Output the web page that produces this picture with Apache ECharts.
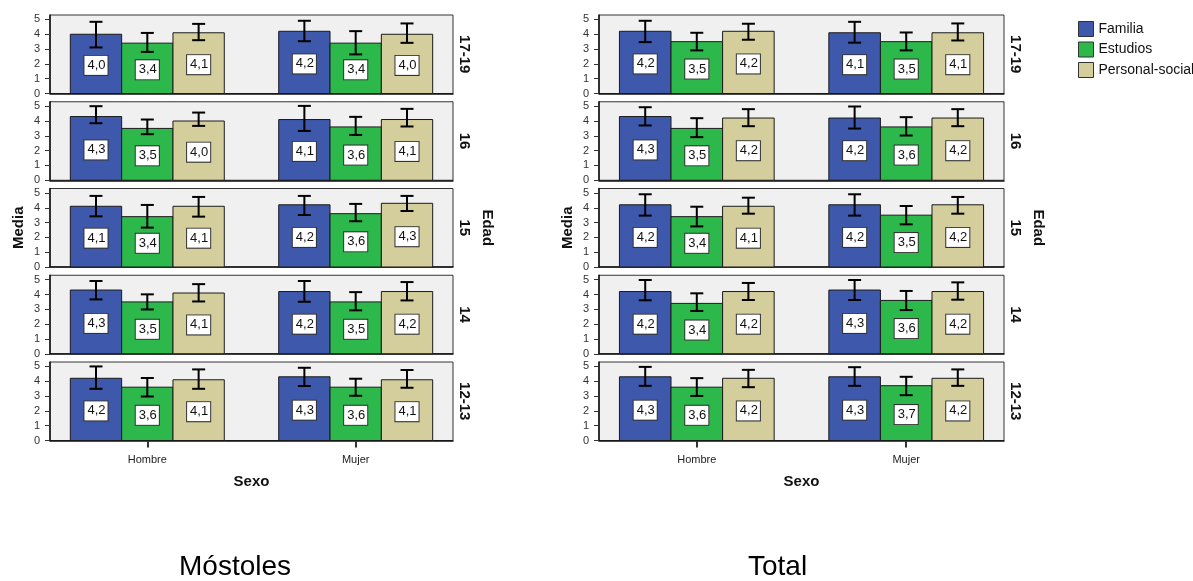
<!DOCTYPE html>
<html><head><meta charset="utf-8">
<script src="https://cdn.jsdelivr.net/npm/echarts@6/dist/echarts.min.js"></script>
<style>html,body{margin:0;padding:0;background:#fff}#c{width:1193px;height:581px}</style>
</head><body><div id="c"></div>
<script>
const sexos = ['Hombre','Mujer'];
const edades = ['17-19','16','15','14','12-13'];
const medidas = ['Familia','Estudios','Personal-social'];
const paneles = ['Móstoles','Total'];
const yTicks = [0,1,2,3,4,5];

// values indexed [edad][sexo]
const mostolesFamilia  = [[4.0,4.2],[4.3,4.1],[4.1,4.2],[4.3,4.2],[4.2,4.3]];
const mostolesEstudios = [[3.4,3.4],[3.5,3.6],[3.4,3.6],[3.5,3.5],[3.6,3.6]];
const mostolesPersonal = [[4.1,4.0],[4.0,4.1],[4.1,4.3],[4.1,4.2],[4.1,4.1]];
const mostolesFamiliaLo  = [[3.11,3.53],[3.85,3.33],[3.42,3.51],[3.67,3.51],[3.49,3.68]];
const mostolesFamiliaHi  = [[4.84,4.91],[5.00,5.02],[4.80,4.80],[4.91,4.91],[5.00,4.91]];
const mostolesEstudiosLo = [[2.81,2.64],[3.11,3.06],[2.66,3.09],[2.99,2.93],[2.97,3.02]];
const mostolesEstudiosHi = [[4.09,4.21],[4.10,4.28],[4.19,4.26],[4.01,4.16],[4.22,4.17]];
const mostolesPersonalLo = [[3.60,3.42],[3.67,3.63],[3.40,3.78],[3.53,3.60],[3.49,3.56]];
const mostolesPersonalHi = [[4.70,4.73],[4.57,4.82],[4.73,4.80],[4.70,4.84],[4.80,4.76]];

const totalFamilia  = [[4.2,4.1],[4.3,4.2],[4.2,4.2],[4.2,4.3],[4.3,4.3]];
const totalEstudios = [[3.5,3.5],[3.5,3.6],[3.4,3.5],[3.4,3.6],[3.6,3.7]];
const totalPersonal = [[4.2,4.1],[4.2,4.2],[4.1,4.2],[4.2,4.2],[4.2,4.2]];
const totalFamiliaLo  = [[3.47,3.43],[3.70,3.49],[3.47,3.47],[3.61,3.63],[3.69,3.69]];
const totalFamiliaHi  = [[4.91,4.84],[4.93,4.98],[4.91,4.91],[4.98,4.98],[4.97,4.95]];
const totalEstudiosLo = [[2.91,2.91],[2.91,3.02],[2.74,2.88],[2.89,2.95],[3.01,3.06]];
const totalEstudiosHi = [[4.10,4.12],[4.19,4.26],[4.07,4.12],[4.08,4.24],[4.21,4.30]];
const totalPersonalLo = [[3.63,3.58],[3.65,3.65],[3.60,3.60],[3.63,3.65],[3.60,3.69]];
const totalPersonalHi = [[4.71,4.73],[4.80,4.80],[4.68,4.73],[4.78,4.82],[4.77,4.80]];

const panelData = [
  { means:[mostolesFamilia, mostolesEstudios, mostolesPersonal],
    lo:[mostolesFamiliaLo, mostolesEstudiosLo, mostolesPersonalLo],
    hi:[mostolesFamiliaHi, mostolesEstudiosHi, mostolesPersonalHi] },
  { means:[totalFamilia, totalEstudios, totalPersonal],
    lo:[totalFamiliaLo, totalEstudiosLo, totalPersonalLo],
    hi:[totalFamiliaHi, totalEstudiosHi, totalPersonalHi] }
];

const FONT = 'Liberation Sans, Arial, sans-serif';
const colors = ['#3E58AC','#2DB84B','#D3CE9B'];
const BAR_W = 0.2463;
const panelPos = [{left:50, width:403}, {left:599, width:405}];
const rowTops = [15, 101.75, 188.5, 275.25, 362];
const rowH = 78.5;

function fmt(v){ return v.toFixed(1).replace('.', ','); }

function makeRender(k){
  return function(params, api){
    const x = api.value(0), v = api.value(1), lo = api.value(2), hi = api.value(3);
    const w = api.size([BAR_W, 0])[0];
    const p0 = api.coord([x, 0]);
    const pv = api.coord([x, v]);
    const pl = api.coord([x, lo]);
    const ph = api.coord([x, hi]);
    const cx = p0[0] + (k - 1) * w;
    const cap = 6.5;
    const err = {stroke:'#000', lineWidth:2};
    return {type:'group', children:[
      {type:'rect', shape:{x:cx - w/2, y:pv[1], width:w, height:p0[1]-pv[1]},
       style:{fill:colors[k], stroke:'#1a1a1a', lineWidth:1}},
      {type:'line', shape:{x1:cx, y1:pl[1], x2:cx, y2:ph[1]}, style:err},
      {type:'line', shape:{x1:cx-cap, y1:pl[1], x2:cx+cap, y2:pl[1]}, style:err},
      {type:'line', shape:{x1:cx-cap, y1:ph[1], x2:cx+cap, y2:ph[1]}, style:err},
      {type:'text', x:cx, y:(p0[1]+pv[1])/2 + 1.5,
       style:{text:fmt(v), fontSize:13, fontFamily:FONT, fill:'#111',
              align:'center', verticalAlign:'middle', lineHeight:14,
              backgroundColor:'#fff', borderColor:'#333', borderWidth:1,
              padding:[3,2,2,3]}}
    ]};
  };
}

const grids = [], xAxes = [], yAxes = [], series = [];
paneles.forEach((pn, p) => {
  edades.forEach((ed, r) => {
    const g = grids.length;
    const last = r === edades.length - 1;
    const mid = r === 2;
    grids.push({left:panelPos[p].left, width:panelPos[p].width, top:rowTops[r], height:rowH,
      show:true, backgroundColor:'#F0F0F0', borderColor:'#333', borderWidth:1});
    xAxes.push({type:'value', gridIndex:g, min:0.533, max:2.467,
      axisLine:{show:true, onZero:false, lineStyle:{color:'#111', width:1.5}},
      splitLine:{show:false},
      axisTick:{show:last, customValues:[1,2], length:7, lineStyle:{color:'#333', width:2}},
      axisLabel:{show:last, customValues:[1,2], margin:14, fontSize:11, fontFamily:FONT, color:'#222',
        formatter:(val)=> sexos[Math.round(val)-1] || ''},
      name: last ? 'Sexo' : '', nameLocation:'middle', nameGap:34,
      nameTextStyle:{fontSize:15, fontWeight:'bold', fontFamily:FONT, color:'#111'}});
    yAxes.push({type:'value', gridIndex:g, min:0, max:5.3, position:'left',
      axisLine:{show:true, lineStyle:{color:'#111', width:1.5}},
      splitLine:{show:false},
      axisTick:{show:true, customValues:yTicks, length:5, lineStyle:{color:'#333'}},
      axisLabel:{customValues:yTicks, margin:10, fontSize:11, fontFamily:FONT, color:'#333'},
      name: mid ? 'Media' : '', nameLocation:'middle', nameGap:24,
      nameTextStyle:{fontSize:15, fontWeight:'bold', fontFamily:FONT, color:'#111'}});
    yAxes.push({type:'value', gridIndex:g, min:0, max:5.3, position:'right',
      axisLine:{show:false}, axisTick:{show:false}, axisLabel:{show:false}, splitLine:{show:false},
      name: ed, nameLocation:'middle', nameRotate:-90, nameGap:4,
      nameTextStyle:{fontSize:15, fontWeight:'bold', fontFamily:FONT, color:'#111'}});
    const rightIdx = yAxes.length - 1;
    if (mid) {
      yAxes.push({type:'value', gridIndex:g, min:0, max:5.3, position:'right',
        axisLine:{show:false}, axisTick:{show:false}, axisLabel:{show:false}, splitLine:{show:false},
        name:'Edad', nameLocation:'middle', nameRotate:-90, nameGap:27,
        nameTextStyle:{fontSize:15, fontWeight:'bold', fontFamily:FONT, color:'#111'}});
    }
    const yIdx = rightIdx - 1;
    medidas.forEach((m, k) => {
      const d = panelData[p];
      series.push({type:'custom', name:m, xAxisIndex:g, yAxisIndex:yIdx,
        itemStyle:{color:colors[k]},
        renderItem:makeRender(k),
        encode:{x:0, y:[1,2,3]},
        data: sexos.map((s, si) => [si + 1, d.means[k][r][si], d.lo[k][r][si], d.hi[k][r][si]])});
    });
  });
});

const chart = echarts.init(document.getElementById('c'), null, {renderer:'canvas'});
chart.setOption({
  backgroundColor:'#fff',
  animation:false,
  textStyle:{fontFamily:FONT},
  title:[
    {text:paneles[0], left:179, top:553, padding:0, textStyle:{fontSize:28, fontWeight:'normal', fontFamily:FONT, color:'#000'}},
    {text:paneles[1], left:748, top:553, padding:0, textStyle:{fontSize:28, fontWeight:'normal', fontFamily:FONT, color:'#000'}}
  ],
  legend:{orient:'vertical', left:1073, top:16, itemWidth:15, itemHeight:15, itemGap:4.5, icon:'rect',
    data:medidas, selectedMode:false,
    itemStyle:{borderColor:'#333', borderWidth:1},
    textStyle:{fontSize:14, fontFamily:FONT, color:'#111'}},
  grid:grids, xAxis:xAxes, yAxis:yAxes, series:series
});
</script></body></html>
